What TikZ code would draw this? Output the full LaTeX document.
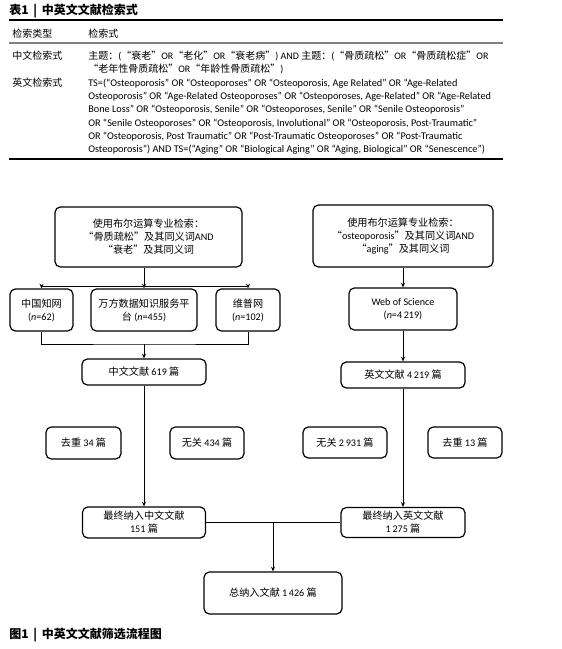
\documentclass[tikz,border=0pt]{standalone}
\usepackage{fontspec}
\setmainfont{Carlito}
\newfontfamily\en{Carlito}
\newfontfamily\cjk{Noto Sans CJK SC}
\usetikzlibrary{arrows.meta, positioning}

\begin{document}
\begin{tikzpicture}[
  x=0.75pt, y=-0.75pt,
  box/.style={rectangle, draw, line width=0.9pt, rounded corners=4pt, align=center, inner sep=1pt, font=\cjk\fontsize{7.6}{9.8}\selectfont},
  captext/.style={anchor=west, inner sep=0pt, font=\cjk\bfseries\fontsize{9}{10}\selectfont},
  zhtext/.style={anchor=west, inner sep=0pt, text height=1.6ex, text depth=0.3ex, font=\cjk\fontsize{7.5}{10}\selectfont},
  entext/.style={anchor=west, inner sep=0pt, text height=1.6ex, text depth=0.3ex, font=\en\fontsize{7.7}{10}\selectfont},
  conn/.style={line width=0.6pt},
  arr/.style={conn, -{Stealth[length=3.5pt, width=3pt]}}
]
  \useasboundingbox (0,0) rectangle (561,649);

  % table
  \node[captext] (tabTitle) at (9,11) {表1 \,|\, 中英文文献检索式};
  \draw[line width=0.9pt] (9,20) -- (503,20);
  \node[zhtext] (hType) at (12,33) {检索类型};
  \node[zhtext] (hQuery) at (88,33) {检索式};
  \draw[gray, line width=1.1pt] (9,43) -- (503,43);
  \node[zhtext] (cnType) at (12,55) {中文检索式};
  \node[zhtext] (cnQ1) at (88,55) {主题：{\en(}“衰老”{\en OR}“老化”{\en OR}“衰老病”{\en) AND} 主题：{\en(}“骨质疏松”{\en OR}“骨质疏松症”{\en OR}};
  \node[zhtext] (cnQ2) at (88,68) {“老年性骨质疏松”{\en OR}“年龄性骨质疏松”{\en)}};
  \node[zhtext] (enType) at (12,82) {英文检索式};
  \node[entext] (enQ1) at (88,82) {TS=(“Osteoporosis” OR “Osteoporoses” OR “Osteoporosis, Age Related” OR “Age-Related};
  \node[entext] (enQ2) at (88,95) {Osteoporosis” OR “Age-Related Osteoporoses” OR “Osteoporoses, Age-Related” OR “Age-Related};
  \node[entext] (enQ3) at (88,108) {Bone Loss” OR “Osteoporosis, Senile” OR “Osteoporoses, Senile” OR “Senile Osteoporosis”};
  \node[entext] (enQ4) at (88,122) {OR “Senile Osteoporoses” OR “Osteoporosis, Involutional” OR “Osteoporosis, Post-Traumatic”};
  \node[entext] (enQ5) at (88,135) {OR “Osteoporosis, Post Traumatic” OR “Post-Traumatic Osteoporoses” OR “Post-Traumatic};
  \node[entext] (enQ6) at (88,148) {Osteoporosis”) AND TS=(“Aging” OR “Biological Aging” OR “Aging, Biological” OR “Senescence”)};
  \draw[line width=0.9pt] (9,159) -- (503,159);

  % flow chart
  \node[box, minimum width=140.25pt, minimum height=45pt] (topL) at (148.5,237) {使用布尔运算专业检索：\\“骨质疏松”及其同义词{\en AND}\\“衰老”及其同义词};
  \node[box, minimum width=135pt, minimum height=46.5pt] (topR) at (403,236) {使用布尔运算专业检索：\\“{\en osteoporosis}”及其同义词{\en AND}\\“{\en aging}”及其同义词};

  \node[box, minimum width=47.25pt, minimum height=31.5pt] (cnki) at (41.5,310) {中国知网\\{\en(\textit{n}=62)}};
  \node[box, minimum width=79.5pt, minimum height=31.5pt] (wanfang) at (144,310) {万方数据知识服务平\\台 {\en(\textit{n}=455)}};
  \node[box, minimum width=48pt, minimum height=31.5pt] (vip) at (248,310) {维普网\\{\en(\textit{n}=102)}};
  \node[box, minimum width=81pt, minimum height=31.5pt] (wos) at (403,309) {{\en Web of Science}\\{\en(\textit{n}=4\,219)}};

  \node[box, minimum width=93pt, minimum height=19.5pt] (cnTotal) at (144,372) {中文文献 {\en 619} 篇};
  \node[box, minimum width=93pt, minimum height=19.5pt] (enTotal) at (403,375) {英文文献 {\en 4\,219} 篇};

  \node[box, minimum width=56.25pt, minimum height=24pt] (dupCn) at (83.5,443) {去重 {\en 34} 篇};
  \node[box, minimum width=55.5pt, minimum height=24pt] (irrCn) at (207,443) {无关 {\en 434} 篇};
  \node[box, minimum width=63pt, minimum height=23.25pt] (irrEn) at (345,442.5) {无关 {\en 2\,931} 篇};
  \node[box, minimum width=55.5pt, minimum height=23.25pt] (dupEn) at (465,442.5) {去重 {\en 13} 篇};

  \node[box, minimum width=92.25pt, minimum height=23.25pt] (cnFinal) at (144,522.5) {最终纳入中文文献\\{\en 151} 篇};
  \node[box, minimum width=93pt, minimum height=22.5pt] (enFinal) at (403,522.5) {最终纳入英文文献\\{\en 1\,275} 篇};
  \node[box, minimum width=103.5pt, minimum height=31.5pt] (total) at (273,593) {总纳入文献 {\en 1\,426} 篇};

  \coordinate (splitCn) at (144,286);
  \coordinate (mergeCn) at (144,344);
  \coordinate (mergeAll) at (273,522.5);

  \draw[conn] (cnki.north |- splitCn) -- (vip.north |- splitCn);
  \draw[arr] (topL.south -| splitCn) -- (wanfang.north);
  \foreach \n in {cnki, vip}{
    \draw[arr] (\n.north |- splitCn) -- (\n.north);
  }
  \draw[conn] (cnki.south) |- (mergeCn) -| (vip.south);
  \foreach \from/\to in {mergeCn/cnTotal.north, cnTotal.south/cnFinal.north, topR.south/wos.north, wos.south/enTotal.north, enTotal.south/enFinal.north, mergeAll/total.north}{
    \draw[arr] (\from) -- (\to);
  }
  \draw[conn] (cnFinal.east) -- (enFinal.west);

  \node[captext] (figTitle) at (9,635) {图1 \,|\, 中英文文献筛选流程图};
\end{tikzpicture}
\end{document}
